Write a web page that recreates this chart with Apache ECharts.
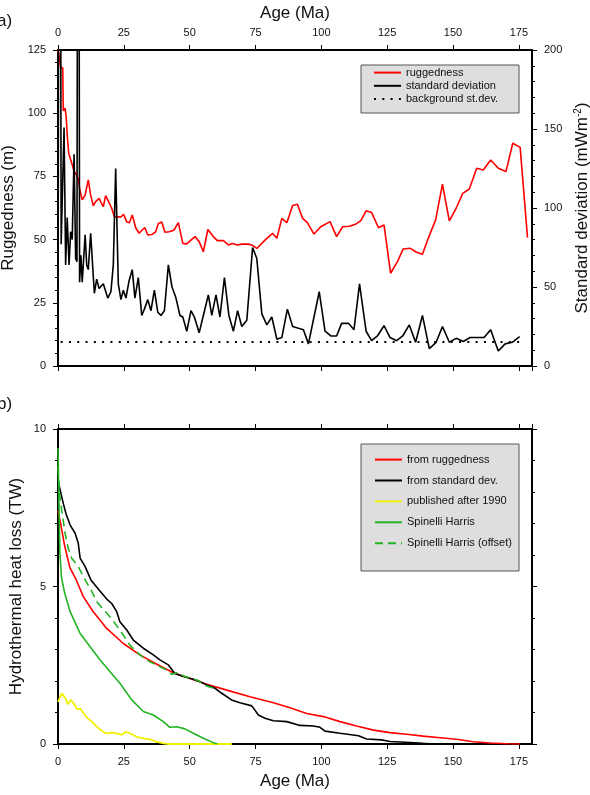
<!DOCTYPE html>
<html>
<head>
<meta charset="utf-8">
<script src="https://cdn.jsdelivr.net/npm/echarts@6/dist/echarts.min.js"></script>
<style>
  html, body { margin: 0; padding: 0; background: #fff; }
  #chart { width: 590px; height: 795px; }
</style>
</head>
<body>
<div id="chart"></div>
<script>
// (a) ruggedness [age Ma, m]
const ruggedness = [[0,125],[0.4,123],[1,118],[1.8,118],[2,101],[2.7,102],[3.1,98.6],[3.6,90],[4.1,84],[4.8,84],
  [5.3,80],[6.1,77],[6.8,76],[7.7,74],[8.3,69.6],[9.2,65.7],[10.3,67.6],[10.9,68.3],[11.5,73.6],[12.4,67.6],
  [13.4,63.4],[14.3,65],[15.6,66.3],[16.3,66],[17.2,63],[18.1,67.4],[19.1,65.3],[20.4,62.4],[21.4,59],[22.7,59],
  [23.9,59],[24.9,60],[26.1,57],[27.1,56.7],[28.2,59.7],[29.5,54.7],[30.8,52.5],[32,53.8],[33,54.7],[34.1,51.8],
  [35.6,52],[37.1,53.1],[38.1,56.4],[39.4,57],[40.6,52.9],[42.2,53.1],[44,53.7],[45.7,56.7],[47.4,48.5],[48.9,48.3],
  [50.8,50.1],[52,51.2],[53.6,49.2],[55.2,45.2],[56.9,54],[59,51.2],[60.5,49.6],[62.8,49.6],[64.7,47.9],[66.3,48.5],
  [68.1,47.9],[70,48.2],[72.3,48.2],[73.6,47.9],[75.5,46.5],[77.4,48.5],[79.3,50.5],[81.5,52.5],[83.1,50.5],[85,58.4],
  [86.9,56.7],[89.1,63.5],[90.9,64],[92.9,58.4],[94.7,56.7],[97.2,52.2],[99.8,55.1],[103.3,57.1],[105.8,51.2],[108.1,55.1],
  [110.6,55.3],[113.2,56.2],[115,57.5],[117,61.4],[119.1,60.7],[121.7,54.7],[123.8,55.8],[126.3,36.7],[128.9,41.3],[131.1,46.3],
  [133.7,46.6],[136.1,45],[138.4,44.2],[140.6,50.5],[143.4,57.8],[146,71.9],[148.6,57.4],[151.2,62.4],[153.7,68.3],[156.2,70],
  [159,78.2],[161.5,77.5],[164.3,81.5],[167.2,78.2],[170.1,76.9],[172.7,88.1],[175.5,86.5],[178.3,50.8]];

// (a) standard deviation [age Ma, mW/m2]
const stdDev = [[0,8],[0.6,600],[1.2,77],[1.6,78],[2.3,151],[2.9,64],[3.5,94],[4.2,64],[4.8,85],[5.4,80],
  [6.1,134],[6.7,68],[7.2,66],[7.7,600],[8.2,53],[8.7,70],[9.2,53],[10.3,83],[10.9,64],[11.5,61],
  [12.4,84],[13.8,46],[14.7,55],[15.6,49],[16.3,48],[17.2,52],[18.9,43],[20.1,47],[21,64],[21.9,125],
  [22.9,52],[23.9,42],[24.8,48],[25.8,43],[27,54],[28.2,61],[29.2,43],[30.5,56],[31.8,32],[32.8,36],
  [34.1,42],[35.3,35],[36.6,48],[37.9,34],[39.1,32],[40.4,35],[41.9,64],[43.3,50],[44.8,43],[46.3,32],
  [47.4,31],[48.9,22],[50.5,35],[51.8,31],[53.6,21],[55.2,32],[57.1,45],[58.4,32],[60,45],[61.5,31],
  [63.2,56],[64.9,32],[66.6,22],[68.2,35],[69.8,25],[71.7,29],[73.9,75],[75.5,68],[77.4,33],[79.3,26],
  [81.2,31],[83.1,17],[85,18],[87.1,36],[89.1,25],[91,24],[93.2,23],[95.1,14],[99.2,47],[101.4,22],
  [103.6,19],[105.8,19],[107.7,27],[110.3,27],[112.4,23],[114.5,52],[117,22],[119.1,16],[121.3,19],[123.8,25.5],
  [126.1,18],[128.6,16],[130.9,19],[133.4,26],[135.8,15],[138.4,32],[141,11],[143.6,15],[146,25],[148.6,15],
  [151.2,17.5],[153.9,15.5],[156.5,18],[159,18],[161.8,18],[164.3,23],[167.2,9.5],[169.8,14],[172.5,15],[175.3,18.6]];

const background = [[1,15.2],[176,15.2]];

// (b) hydrothermal heat loss [age Ma, TW]
const heatRugged = [[0,7.4],[1,7.0],[2.5,6.3],[4.5,5.6],[7,5.2],[9.6,4.68],[13.4,4.2],[18.5,3.67],[24.8,3.19],[31.1,2.83],
  [37.5,2.53],[43.8,2.26],[50.1,2.08],[56.5,1.9],[64.1,1.71],[72.9,1.5],[81.8,1.31],[88.1,1.15],[94.5,0.97],[100.8,0.87],
  [107.1,0.71],[113.4,0.57],[119.8,0.44],[126.1,0.36],[132.4,0.31],[138.7,0.25],[145.1,0.2],[151.4,0.15],[157.7,0.07],[164.1,0.03],
  [170.4,0.01],[175.5,0]];
const heatStd = [[0,8.35],[1.1,7.96],[2,7.64],[3,7.32],[4.6,6.95],[6.5,6.69],[7.7,6.37],[8.4,5.9],[10.3,5.63],[12.5,5.21],
  [16,4.85],[18.5,4.6],[20.4,4.46],[22.3,4.2],[23.5,3.88],[26.1,3.62],[28.6,3.3],[32.4,3.04],[36.2,2.83],[38.7,2.67],
  [41.9,2.51],[44.4,2.24],[47,2.16],[50.8,2.07],[53.9,1.98],[56.5,1.87],[59.6,1.77],[62.2,1.61],[65.9,1.4],[69.1,1.31],
  [73.6,1.21],[76.1,0.92],[78.6,0.82],[81.8,0.74],[86.9,0.71],[91.9,0.59],[97,0.57],[99.5,0.53],[101.4,0.41],[107.1,0.34],
  [114.1,0.26],[117.2,0.16],[122.9,0.13],[126.1,0.08],[133.7,0.05],[138.7,0.02],[141.3,0.01],[145,0]];
const heatPublished = [[0,1.34],[1.4,1.61],[2,1.63],[2.9,1.45],[3.7,1.26],[4.9,1.4],[6.2,1.26],[7.3,1.1],[8.5,1.12],[10.6,0.87],
  [12.8,0.71],[14.7,0.55],[16.6,0.42],[18.2,0.34],[20.4,0.36],[22.3,0.34],[24.2,0.29],[25.8,0.39],[27.3,0.34],[29.9,0.23],
  [32.4,0.18],[34.9,0.15],[37.5,0.07],[40,0.02],[42,0],[66,0]];
const heatSpinelli = [[0,9.4],[0.3,8.0],[0.7,6.1],[1.3,5.3],[2.5,4.8],[4.6,4.2],[8.4,3.51],[12.2,3.09],[16,2.67],[19.7,2.3],
  [23.5,1.93],[28,1.4],[32.4,1.03],[36.2,0.92],[40,0.71],[42.5,0.53],[45.1,0.55],[48.2,0.48],[51.4,0.34],[55.2,0.18],
  [59.6,0.02],[60.5,0]];
const heatSpinelliOffset = [[0,8.8],[0.5,8.0],[1.4,7.43],[2.7,6.69],[3.9,6.21],[5.2,5.9],[7.7,5.63],[10.3,5.21],[12.8,4.85],[14.7,4.52],
  [19.7,4.04],[23.5,3.62],[27.3,3.14],[31.1,2.83],[34.9,2.61],[38.7,2.45],[41.3,2.35],[43.2,2.21],[45.1,2.26],[48.2,2.14],
  [52.7,2.03],[56.5,1.84],[59,1.77]];

const FONT = '"Liberation Sans", Arial, Helvetica, sans-serif';
const INK = '#111';

var myChart = echarts.init(document.getElementById('chart'));

function xAx(grid, pos, labels, name, gap) {
  return {
    gridIndex: grid, type: 'value', position: pos, min: 0, max: 180, interval: 25,
    name: name || '', nameLocation: 'middle', nameGap: gap || 0, nameMoveOverlap: false,
    nameTextStyle: { fontSize: 17, color: INK, fontFamily: FONT },
    axisLine: { show: true, onZero: false, lineStyle: { color: '#000', width: 2 } },
    axisTick: { show: true, length: 5, lineStyle: { color: '#000', width: 1 } },
    axisLabel: { show: labels, margin: 12, fontSize: 11, color: INK, fontFamily: FONT, showMaxLabel: false },
    splitLine: { show: false }
  };
}
function yAx(grid, pos, max, interval, labels, name, gap) {
  return {
    gridIndex: grid, type: 'value', position: pos, min: 0, max: max, interval: interval,
    name: name || '', nameLocation: 'middle', nameGap: gap || 0, nameMoveOverlap: false,
    nameTextStyle: {
      fontSize: 17, color: INK, fontFamily: FONT,
      rich: { sup: { fontSize: 10, color: INK, fontFamily: FONT, padding: [0, 0, 9, 0] } }
    },
    axisLine: { show: true, onZero: false, lineStyle: { color: '#000', width: 2 } },
    axisTick: { show: true, length: 5, lineStyle: { color: '#000', width: 1 } },
    minorTick: { show: true, splitNumber: 5, length: 3, lineStyle: { color: '#000', width: 1 } },
    axisLabel: { show: labels, margin: 12, fontSize: 11, color: INK, fontFamily: FONT },
    splitLine: { show: false }, minorSplitLine: { show: false }
  };
}

function line(name, data, color, xi, yi, width, type) {
  return {
    name: name, type: 'line', data: data, xAxisIndex: xi, yAxisIndex: yi,
    symbol: 'none', clip: true, silent: true,
    lineStyle: { color: color, width: width, type: type || 'solid' },
    itemStyle: { color: color }
  };
}

const legendText = { fontSize: 11, color: INK, fontFamily: FONT };

myChart.setOption({
  animation: false,
  backgroundColor: '#fff',
  textStyle: { fontFamily: FONT },
  grid: [
    { left: 58, top: 50, width: 474, height: 316, outerBoundsMode: 'none' },
    { left: 58, top: 429, width: 474, height: 315, outerBoundsMode: 'none' }
  ],
  xAxis: [
    xAx(0, 'top', true, 'Age (Ma)', 28),
    xAx(0, 'bottom', false),
    xAx(1, 'bottom', true, 'Age (Ma)', 29),
    xAx(1, 'top', false)
  ],
  yAxis: [
    yAx(0, 'left', 125, 25, true, 'Ruggedness (m)', 41),
    yAx(0, 'right', 200, 50, true, 'Standard deviation (mWm{sup|-2})', 41),
    yAx(1, 'left', 10, 5, true, 'Hydrothermal heat loss (TW)', 33),
    yAx(1, 'right', 10, 5, false)
  ],
  graphic: [
    { type: 'rect', z: 5, shape: { x: 361, y: 65, width: 158, height: 48 },
      style: { fill: '#dedede', stroke: '#555', lineWidth: 1 } },
    { type: 'rect', z: 5, shape: { x: 361, y: 444, width: 158, height: 127 },
      style: { fill: '#dedede', stroke: '#555', lineWidth: 1 } },
    { type: 'text', z: 5, left: -3, top: 13, style: { text: 'a)', fontSize: 17, fill: INK, fontFamily: FONT } },
    { type: 'text', z: 5, left: -3, top: 396, style: { text: 'b)', fontSize: 17, fill: INK, fontFamily: FONT } }
  ],
  legend: [
    { z: 20, orient: 'vertical', left: 373, top: 67, padding: 0, itemWidth: 27, itemHeight: 14, itemGap: 2,
      selectedMode: false, textStyle: legendText, itemStyle: { opacity: 0 },
      data: ['ruggedness', 'standard deviation', 'background st.dev.'] },
    { z: 20, orient: 'vertical', left: 374, top: 454, padding: 0, itemWidth: 27, itemHeight: 14, itemGap: 9.7,
      selectedMode: false, textStyle: legendText, itemStyle: { opacity: 0 },
      data: ['from ruggedness', 'from standard dev.', 'published after 1990', 'Spinelli Harris', 'Spinelli Harris (offset)'] }
  ],
  series: [
    line('ruggedness', ruggedness, '#ff0000', 0, 0, 1.6),
    line('standard deviation', stdDev, '#000000', 0, 1, 1.6),
    line('background st.dev.', background, '#000000', 0, 1, 2, [2, 6.3]),
    line('from ruggedness', heatRugged, '#ff0000', 2, 2, 1.6),
    line('from standard dev.', heatStd, '#000000', 2, 2, 1.6),
    line('published after 1990', heatPublished, '#f0f000', 2, 2, 1.8),
    line('Spinelli Harris', heatSpinelli, '#22b422', 2, 2, 1.6),
    line('Spinelli Harris (offset)', heatSpinelliOffset, '#22b422', 2, 2, 1.6, [8, 5])
  ]
});
</script>
</body>
</html>
